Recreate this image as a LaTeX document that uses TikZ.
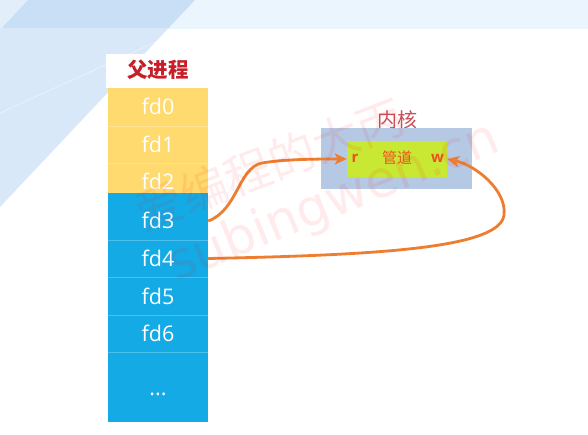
\documentclass[tikz,border=0pt]{standalone}
\usepackage{fontspec}
\setmainfont{Open Sans}
\newfontfamily\cjk{Noto Sans CJK SC}
\newfontfamily\wmfont{DejaVu Sans}
\usetikzlibrary{arrows.meta}
\definecolor{bandblue}{HTML}{EBF5FD}
\definecolor{bandcorner}{HTML}{E2EFFB}
\definecolor{diagdark}{HTML}{C9DFF5}
\definecolor{diaglight}{HTML}{D9E8F8}
\definecolor{fdyellow}{HTML}{FFDA6E}
\definecolor{fdblue}{HTML}{14AAE6}
\definecolor{kernelblue}{HTML}{B6C9E4}
\definecolor{pipegreen}{HTML}{C8E834}
\definecolor{titlered}{HTML}{C81E28}
\definecolor{kernelred}{HTML}{C8505A}
\definecolor{pipetext}{HTML}{F0501E}
\definecolor{arroworange}{HTML}{ED7D31}
\tikzset{
 fdcell/.style={text=white, font=\fontsize{21.5}{24}\selectfont, text height=16pt, text depth=0pt, inner sep=0pt, minimum width=100pt},
 titletext/.style={text=titlered, font=\cjk\bfseries\fontsize{20.5}{24}\selectfont, inner sep=0pt},
 kernellabel/.style={text=kernelred, font=\cjk\fontsize{20}{24}\selectfont, inner sep=0pt},
 kernelbox/.style={fill=kernelblue, draw=none, minimum width=151pt, minimum height=61pt, inner sep=0pt},
 pipebox/.style={fill=pipegreen, draw=none, minimum width=100pt, minimum height=36pt, inner sep=0pt},
 pipelabel/.style={text=pipetext, font=\cjk\fontsize{15}{18}\selectfont, inner sep=0pt},
 rwlabel/.style={text=pipetext, font=\bfseries\fontsize{15}{18}\selectfont, inner sep=0pt},
 flow/.style={draw=arroworange, line width=2.8pt, -{Stealth[length=12pt,width=11pt,inset=3pt]}},
 sepline/.style={draw=white, opacity=0.25, line width=0.6pt},
 watermark/.style={text=red, opacity=0.08, inner sep=0pt},
}
\begin{document}
\begin{tikzpicture}[x=1pt,y=-1pt]
\useasboundingbox (0,0) rectangle (588,435);
\fill[white] (0,0) rectangle (588,435);
% background decoration
\fill[bandblue] (0,0) rectangle (588,29);
\begin{scope}
 \clip (0,0) rectangle (588,29);
 \fill[bandcorner] (0,0) -- (28,0) -- (0,30) -- cycle;
 \fill[diagdark] (28,0) -- (195,0) -- (0,207) -- (0,30) -- cycle;
\end{scope}
\begin{scope}
 \clip (0,29) rectangle (588,435);
 \fill[diaglight] (0,0) -- (195,0) -- (0,207) -- cycle;
 \draw[white, opacity=0.5, line width=0.6pt] (0,113) -- (160,40);
\end{scope}
% title box
\fill[white] (106,54) rectangle (208,88);
\node[titletext] (title) at (158,70) {父进程};
% fd table
\fill[fdyellow] (108,88) rectangle (208,193);
\fill[fdblue] (108,193) rectangle (208,422);
\foreach \yy in {126,163} \draw[sepline] (108,\yy) -- (208,\yy);
\foreach \yy in {240,277,315,352} \draw[sepline] (108,\yy) -- (208,\yy);
\node[fdcell] (fd0) at (158,107) {fd0};
\node[fdcell] (fd1) at (158,145) {fd1};
\node[fdcell] (fd2) at (158,181.5) {fd2};
\node[fdcell] (fd3) at (158,221) {fd3};
\node[fdcell] (fd4) at (158,258.5) {fd4};
\node[fdcell] (fd5) at (158,296) {fd5};
\node[fdcell] (fd6) at (158,333.5) {fd6};
\node[fdcell] (fddots) at (158,387) {...};
% kernel
\node[kernellabel] (klabel) at (397,119.5) {内核};
\node[kernelbox] (kernel) at (396.5,158.5) {};
\node[pipebox] (pipe) at (397,159) {};
\node[rwlabel] (r) at (355,158) {r};
\node[pipelabel] (gd) at (397,158) {管道};
\node[rwlabel] (w) at (437.5,158) {w};
% connectors
\draw[flow] (fd3.east) .. controls (238,210) and (238,168) .. (262,163)
  .. controls (285,159) and (320,159) .. (pipe.west);
\draw[flow] (fd4.east) .. controls (380,255) and (500,248) .. (504,215)
  .. controls (507,190) and (475,165) .. (pipe.east);
% watermark
\node[watermark, rotate=21, font=\cjk\fontsize{47}{50}\selectfont] (wm1) at (270,164) {爱编程的大丙};
\node[watermark, rotate=22, font=\wmfont\fontsize{51}{54}\selectfont] (wm2) at (334,203) {subingwen.cn};
\end{tikzpicture}
\end{document}
